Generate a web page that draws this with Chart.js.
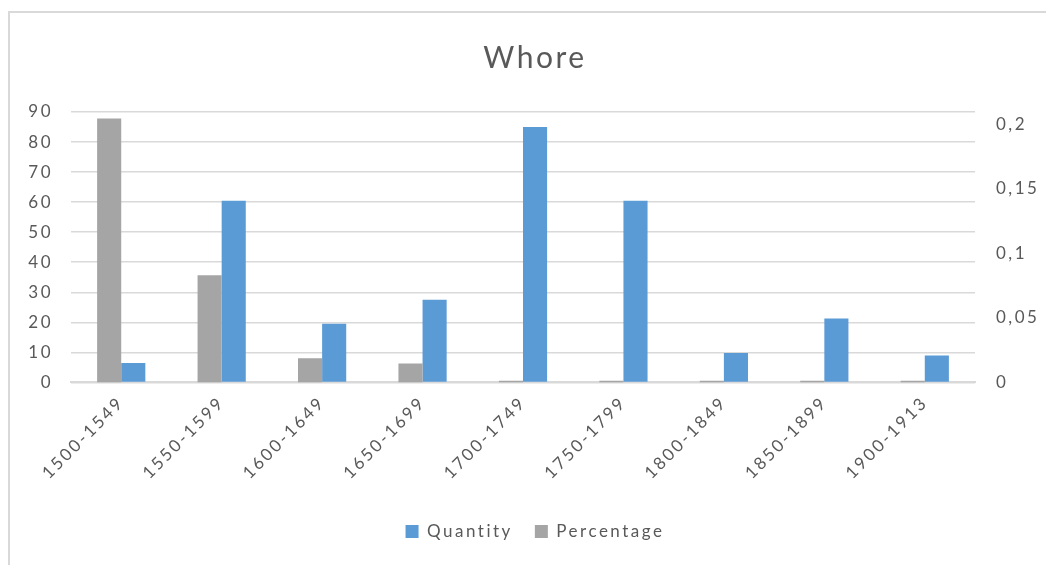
<!DOCTYPE html>
<html>
<head>
<meta charset="utf-8">
<script src="https://cdn.jsdelivr.net/npm/chart.js@4"></script>
<style>
  html, body { margin: 0; padding: 0; background: #fff; overflow: hidden; }
  #frame { position: absolute; left: 8px; top: 11px; width: 1100px; height: 600px;
           border-left: 2px solid #d9d9d9; border-top: 2px solid #d9d9d9; }
  #wrap { position: absolute; left: 0; top: 0; width: 1046px; height: 565px; }
</style>
</head>
<body>
<div id="frame"></div>
<div id="wrap"><canvas id="chart"></canvas></div>
<script>
const periods = ["1500-1549", "1550-1599", "1600-1649", "1650-1699", "1700-1749",
                 "1750-1799", "1800-1849", "1850-1899", "1900-1913"];
const quantity = [6.5, 60.5, 19.5, 27.5, 85, 60.5, 9.8, 21.3, 9];
const percentage = [0.2044, 0.083, 0.0187, 0.0146, 0.0013, 0.0013, 0.0013, 0.0013, 0.0013];
const leftTicks = [0, 10, 20, 30, 40, 50, 60, 70, 80, 90];
const rightTicks = [0, 0.05, 0.1, 0.15, 0.2];

const grey = '#595959';
const font = 'Lato, "Open Sans", sans-serif';

// the excel text is spaced out, canvas can do that too
const spacing = {
  id: 'spacing',
  beforeInit(c) { c.ctx.letterSpacing = '2.5px'; },
  beforeUpdate(c) { c.ctx.letterSpacing = '2.5px'; },
  beforeDraw(c) { c.ctx.letterSpacing = '2.5px'; }
};

let chart = new Chart(document.getElementById('chart'), {
  type: 'bar',
  data: {
    labels: periods,
    datasets: [{
      label: 'Percentage',
      data: percentage,
      backgroundColor: '#a5a5a5',
      yAxisID: 'y1',
      categoryPercentage: 0.48,
      barPercentage: 1.0
    }, {
      label: 'Quantity',
      data: quantity,
      backgroundColor: '#5b9bd5',
      yAxisID: 'y',
      categoryPercentage: 0.48,
      barPercentage: 1.0
    }]
  },
  plugins: [spacing],
  options: {
    responsive: true,
    maintainAspectRatio: false,
    animation: false,
    layout: { padding: { left: 24, right: 0, top: 40, bottom: 15 } },
    plugins: {
      title: {
        display: true,
        text: 'Whore',
        color: grey,
        font: { family: font, size: 30, weight: 'normal' },
        padding: { top: 0, bottom: 36 }
      },
      legend: {
        position: 'bottom',
        reverse: true,
        labels: {
          color: grey,
          boxWidth: 13,
          boxHeight: 13,
          padding: 22,
          font: { family: font, size: 17 }
        }
      },
      tooltip: { enabled: false }
    },
    scales: {
      x: {
        grid: { display: false, drawTicks: false },
        border: { color: '#d9d9d9', width: 2 },
        ticks: {
          color: grey,
          font: { family: font, size: 17 },
          minRotation: 45,
          maxRotation: 45,
          padding: 10
        },
        afterFit: axis => {
          axis.paddingLeft = 0;
          axis.paddingRight = 0;
          axis.height += 8;
        }
      },
      y: {
        position: 'left',
        min: 0,
        max: 90,
        afterBuildTicks: axis => { axis.ticks = leftTicks.map(v => ({ value: v })); },
        afterFit: axis => { axis.width = 47; },
        grid: { color: '#d9d9d9', lineWidth: 1.5, drawTicks: false },
        border: { display: false },
        ticks: {
          color: grey,
          font: { family: font, size: 17 },
          padding: 18
        }
      },
      y1: {
        position: 'right',
        min: 0,
        max: 0.2095,
        afterBuildTicks: axis => { axis.ticks = rightTicks.map(v => ({ value: v })); },
        afterFit: axis => { axis.width = 71; },
        grid: { display: false, drawTicks: false },
        border: { display: false },
        ticks: {
          color: grey,
          font: { family: font, size: 17 },
          padding: 21,
          callback: v => String(v).replace('.', ',')
        }
      }
    }
  }
});
</script>
</body>
</html>
